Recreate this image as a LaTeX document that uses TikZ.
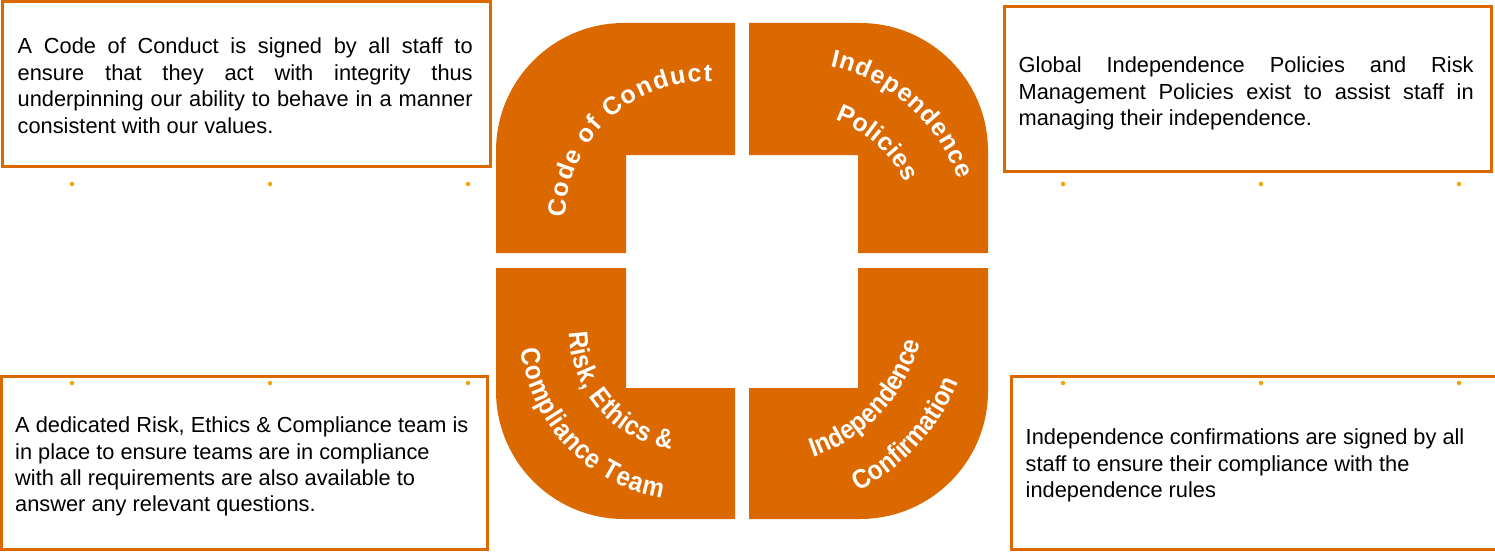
\documentclass[tikz,border=0pt]{standalone}
\usepackage{fontspec}
\setmainfont{Liberation Sans}
\newfontfamily\narrowsans[FakeStretch=0.9]{Liberation Sans}
\usetikzlibrary{decorations.text}
\definecolor{pillarorange}{RGB}{219,105,0}
\definecolor{dotorange}{RGB}{245,162,10}
\newcommand\arcfont{\fontsize{25}{25}\selectfont\bfseries}
\newcommand\arcfontlow{\narrowsans\fontsize{27}{27}\selectfont\bfseries}

\begin{document}
\begin{tikzpicture}[x=1pt,y=1pt,
    infobox/.style={draw=pillarorange, line width=3pt, inner sep=0pt},
    boxtext/.style={inner sep=0pt, anchor=west, font=\fontsize{21.8}{26.4}\selectfont},
    smalldot/.style={circle, fill=dotorange, inner sep=0pt, minimum size=4.5pt},
    arctext/.style={decorate, decoration={text along path, text color=white, text align={fit to path}, text={#1}}}]
                \useasboundingbox (0,0) rectangle (1495,-551);

                % four quarter pieces
                \fill[pillarorange] (496,-253) -- (496,-151) arc[start angle=180, end angle=90, radius=128] -- (735,-23) -- (735,-155) -- (626,-155) -- (626,-253) -- cycle;
                \fill[pillarorange] (749,-23) -- (860,-23) arc[start angle=90, end angle=0, radius=128] -- (988,-253) -- (858,-253) -- (858,-155) -- (749,-155) -- cycle;
                \fill[pillarorange] (496,-268) -- (626,-268) -- (626,-388) -- (735,-388) -- (735,-519) -- (624,-519) arc[start angle=270, end angle=180, radius=128] -- cycle;
                \fill[pillarorange] (749,-388) -- (858,-388) -- (858,-268) -- (988,-268) -- (988,-391) arc[start angle=0, end angle=-90, radius=128] -- (749,-519) -- cycle;

                \coordinate (conductc) at (705,-222);
                \coordinate (policyc) at (792,-238);
                \coordinate (riskc) at (690,-330);
                \coordinate (confirmc) at (760,-300);

                \path[arctext={|\arcfont|Code of Conduct}] (conductc) ++(178.3:140) arc[start angle=178.3, end angle=87.2, radius=140];
                \path[arctext={|\arcfont|Independence}] (policyc) ++(77.5:176) arc[start angle=77.5, end angle=19.3, radius=176];
                \path[arctext={|\arcfont|Policies}] (policyc) ++(70:126) arc[start angle=70, end angle=26, radius=126];
                \path[arctext={|\arcfontlow|Risk, Ethics {\&}}] (riskc) ++(181.4:121) arc[start angle=181.4, end angle=261, radius=121];
                \path[arctext={|\arcfontlow|Compliance Team}] (riskc) ++(186.7:170) arc[start angle=186.7, end angle=260.5, radius=170];
                \path[arctext={|\arcfontlow|Independence}] (confirmc) ++(-71.2:166) arc[start angle=-71.2, end angle=-17, radius=166];
                \path[arctext={|\arcfontlow|Confirmation}] (confirmc) ++(-62.7:215) arc[start angle=-62.7, end angle=-22.8, radius=215];

                % text boxes
                \node[infobox, minimum width=487.5pt, minimum height=164.5pt] (conduct) at (246.25,-83.75) {};
                \node[infobox, minimum width=487.5pt, minimum height=164.3pt] (policies) at (1247.75,-89.15) {};
                \node[infobox, minimum width=486pt, minimum height=173.5pt] (ethics) at (244,-462.75) {};
                \node[infobox, minimum width=489pt, minimum height=173.5pt] (confirm) at (1255.5,-462.75) {};

                \node[boxtext, text width=455pt, align=justify] (conducttext) at ([xshift=16.5pt,yshift=-2pt]conduct.west) {A Code of Conduct is signed by all staff to\linebreak ensure that they act with integrity thus\linebreak underpinning our ability to behave in a manner\linebreak consistent with our values.};
                \node[boxtext, text width=455pt, align=justify] (policiestext) at ([xshift=16pt,yshift=-4.5pt]policies.west) {Global Independence Policies and Risk\linebreak Management Policies exist to assist staff in\linebreak managing their independence.};
                \node[boxtext, align=left] (ethicstext) at ([xshift=15.5pt,yshift=-4pt]ethics.west) {A dedicated Risk, Ethics \& Compliance team is\\ in place to ensure teams are in compliance\\ with all requirements are also available to\\ answer any relevant questions.};
                \node[boxtext, align=left] (confirmtext) at ([xshift=16pt,yshift=-3pt]confirm.west) {Independence confirmations are signed by all\\ staff to ensure their compliance with the\\ independence rules};

                \node[smalldot] (d1) at (72,-184) {};
                \node[smalldot] (d2) at (270,-184) {};
                \node[smalldot] (d3) at (468,-184) {};
                \node[smalldot] (d4) at (1063,-184) {};
                \node[smalldot] (d5) at (1261,-184) {};
                \node[smalldot] (d6) at (1459,-184) {};
                \node[smalldot] (d7) at (72,-383) {};
                \node[smalldot] (d8) at (270,-383) {};
                \node[smalldot] (d9) at (468,-383) {};
                \node[smalldot] (d10) at (1063,-383) {};
                \node[smalldot] (d11) at (1261,-383) {};
                \node[smalldot] (d12) at (1459,-383) {};
            \end{tikzpicture}
\end{document}
